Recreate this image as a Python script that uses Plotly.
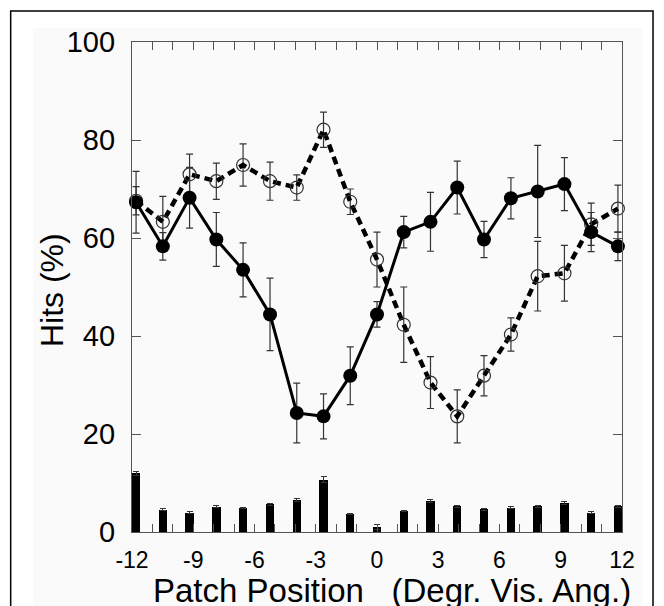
import plotly.graph_objects as go

# ---- data ----
positions = [-11.8, -10.49, -9.18, -7.87, -6.56, -5.24, -3.93, -2.62, -1.31, 0.0,
             1.31, 2.62, 3.93, 5.24, 6.56, 7.87, 9.18, 10.49, 11.8]
hits_solid = [67.3, 58.3, 68.2, 59.7, 53.5, 44.4, 24.3, 23.6, 31.9, 44.4,
              61.2, 63.3, 70.3, 59.7, 68.1, 69.5, 71.0, 61.2, 58.3]
err_solid = [6.3, 2.8, 6.2, 5.5, 5.5, 7.4, 6.1, 4.6, 5.9, 2.6,
             3.2, 6.0, 5.4, 3.7, 4.2, 9.4, 5.4, 4.0, 2.9]
hits_open = [67.6, 63.3, 73.0, 71.6, 74.9, 71.6, 70.3, 82.1, 67.4, 55.6,
             42.3, 30.5, 23.6, 31.9, 40.3, 52.2, 52.8, 62.8, 66.0]
err_open = [2.9, 5.2, 4.1, 3.7, 4.3, 3.9, 2.6, 3.6, 2.6, 5.6,
            7.7, 5.3, 5.4, 4.1, 3.4, 7.1, 5.7, 4.3, 4.8]
bar_vals = [12.0, 4.5, 3.9, 5.2, 4.9, 5.7, 6.6, 10.7, 3.6, 1.0,
            4.3, 6.4, 5.3, 4.6, 5.0, 5.3, 6.0, 3.9, 5.3]
bar_err = [0.4, 0.2, 0.2, 0.2, 0.2, 0.2, 0.3, 0.6, 0.1, 0.45,
           0.1, 0.3, 0.2, 0.2, 0.2, 0.2, 0.3, 0.2, 0.2]
x_tickvals = list(range(-12, 13))
x_ticktext = [str(v) if v % 3 == 0 else "" for v in x_tickvals]
y_tickvals = [0, 20, 40, 60, 80, 100]
x_title = "Patch Position\u00a0\u00a0\u00a0(Degr. Vis. Ang.)"
y_title = "Hits (%)"

FONT = "Liberation Sans, Arial, sans-serif"
AX = "#555555"
ERR = "#333333"

fig = go.Figure()

fig.add_trace(go.Bar(
    x=positions, y=bar_vals, width=0.41,
    marker=dict(color="black", line=dict(width=0)),
    error_y=dict(type="data", array=bar_err, color=ERR, thickness=1, width=3),
    showlegend=False,
))

fig.add_trace(go.Scatter(
    x=positions, y=hits_open, mode="lines+markers",
    line=dict(color="black", width=4.5, dash="8px,5px"),
    marker=dict(symbol="circle-open", size=13, color="#333333", line=dict(width=1.2)),
    error_y=dict(type="data", array=err_open, color=ERR, thickness=1.2, width=3.5),
    cliponaxis=False, showlegend=False,
))

fig.add_trace(go.Scatter(
    x=positions, y=hits_solid, mode="lines+markers",
    line=dict(color="black", width=3),
    marker=dict(symbol="circle", size=14, color="black"),
    error_y=dict(type="data", array=err_solid, color=ERR, thickness=1.2, width=3.5),
    cliponaxis=False, showlegend=False,
))

# page frame and faint panel
fig.add_shape(type="rect", xref="paper", yref="paper",
              x0=-0.202, x1=1.0408, y0=-0.2, y1=1.0286,
              line=dict(width=0), fillcolor="#fafafa", layer="below")
fig.add_shape(type="rect", xref="paper", yref="paper",
              x0=-0.2476, x1=1.0633, y0=-0.2, y1=1.0633,
              line=dict(color="black", width=1.5), fillcolor="rgba(0,0,0,0)", layer="below")

# axis titles
fig.add_annotation(text=x_title, xref="paper", yref="paper", x=0.53, y=-0.12,
                   xanchor="center", yanchor="middle", showarrow=False,
                   font=dict(size=33, family=FONT, color="black"))
fig.add_annotation(text=y_title, xref="paper", yref="paper", x=-0.163, y=0.494,
                   xanchor="center", yanchor="middle", showarrow=False, textangle=-90,
                   font=dict(size=32, family=FONT, color="black"))

fig.update_layout(
    width=664, height=606,
    margin=dict(l=132, r=42, t=42, b=74),
    paper_bgcolor="white", plot_bgcolor="rgba(0,0,0,0)",
    font=dict(family=FONT, color="black"),
    bargap=0,
    xaxis=dict(
        range=[-12, 12], tickmode="array", tickvals=x_tickvals, ticktext=x_ticktext,
        ticks="inside", ticklen=8, tickwidth=1, tickcolor=AX,
        showline=True, linecolor=AX, linewidth=1.2, mirror="ticks",
        showgrid=False, zeroline=False, automargin=False,
        tickfont=dict(size=23, family=FONT), ticklabelstandoff=7,
    ),
    yaxis=dict(
        range=[0, 100], tickmode="array", tickvals=y_tickvals,
        ticks="inside", ticklen=9, tickwidth=1, tickcolor=AX,
        showline=True, linecolor=AX, linewidth=1.2, mirror="ticks",
        showgrid=False, zeroline=False, automargin=False,
        tickfont=dict(size=29, family=FONT), ticklabelstandoff=10,
    ),
)

fig.write_html("out.html")
